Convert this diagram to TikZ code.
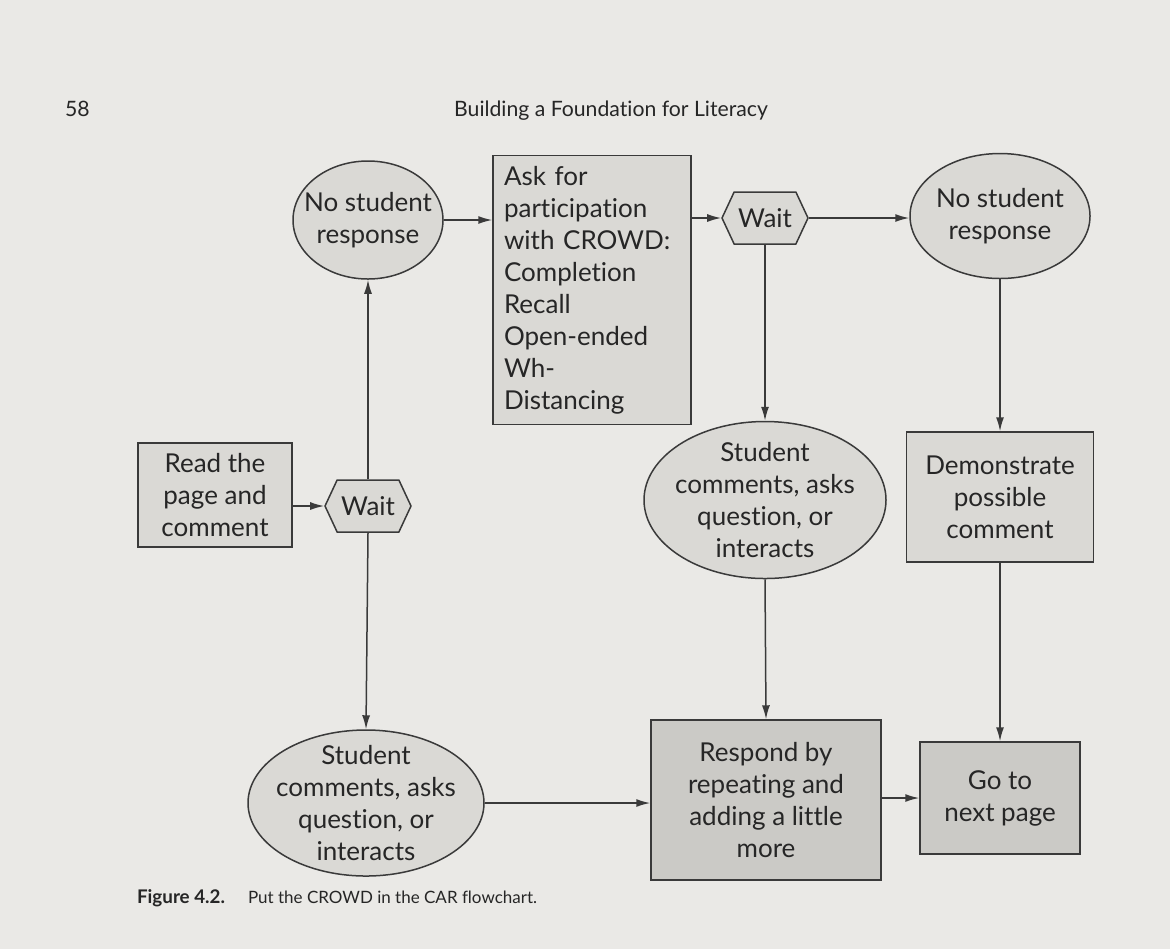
\documentclass[tikz,border=0pt]{standalone}
\usepackage{fontspec}
\setmainfont{Lato}[Ligatures=NoCommon]
\usetikzlibrary{shapes.geometric,shapes.symbols,arrows.meta}
\definecolor{pagebg}{HTML}{EAE9E6}
\definecolor{fillA}{HTML}{DAD9D5}
\definecolor{fillB}{HTML}{CBCAC6}
\definecolor{linecol}{HTML}{3A3A3A}
\definecolor{textcol}{HTML}{262626}
\tikzset{
  base/.style={draw=linecol, line width=0.75pt, text=textcol, font=\fontsize{13}{16}\selectfont, align=center},
  boxnode/.style={base, rectangle, fill=fillA, inner sep=0pt},
  darkbox/.style={base, rectangle, fill=fillB, inner sep=0pt},
  oval/.style={base, ellipse, fill=fillA, inner sep=-25pt},
  hexnode/.style={base, signal, signal to=east and west, signal pointer angle=130, fill=fillA, inner sep=0pt, minimum width=43pt, minimum height=26pt},
  arr/.style={draw=linecol, line width=0.75pt, -{Latex[length=7pt,width=4pt]}},
  hdr/.style={text=textcol, font=\fontsize{10.6}{12}\selectfont}
}
\begin{document}
\begin{tikzpicture}[x=0.5pt,y=-0.5pt]
\fill[pagebg] (0,0) rectangle (1170,949);
\useasboundingbox (0,0) rectangle (1170,949);
% header
\node[hdr, anchor=base west] (pnum) at (58,116) {58};
\node[hdr, anchor=base] (head) at (611,116) {Building a Foundation for Literacy};
% nodes
\node[boxnode, minimum width=77pt, minimum height=52pt] (read) at (215,495) {Read the\\page and\\comment};
\node[hexnode] (wait1) at (368,506) {Wait};
\node[oval, minimum width=75pt, minimum height=59pt] (ell1) at (368,220) {No student\\response};
\node[oval, minimum width=118pt, minimum height=73pt] (stud1) at (366,803) {Student\\comments, asks\\question, or\\interacts};
\node[boxnode, minimum width=99pt, minimum height=134.5pt, text width=88pt, align=left] (crowd) at (592,290) {Ask for\\participation\\with CROWD:\\Completion\\Recall\\Open-ended\\Wh-\\Distancing};
\node[hexnode] (wait2) at (765,218) {Wait};
\node[oval, minimum width=90pt, minimum height=62.5pt] (ell2) at (1000,216) {No student\\response};
\node[oval, minimum width=121pt, minimum height=78.5pt] (stud2) at (765,500) {Student\\comments, asks\\question, or\\interacts};
\node[boxnode, minimum width=93.5pt, minimum height=65pt] (demo) at (1000,497) {Demonstrate\\possible\\comment};
\node[darkbox, minimum width=115pt, minimum height=80pt] (respond) at (766,800) {Respond by\\repeating and\\adding a little\\more};
\node[darkbox, minimum width=80pt, minimum height=56pt] (go) at (1000,798) {Go to\\next page};
% connectors
\draw[arr] (read.east |- wait1.west) -- (wait1.west);
\draw[arr] (wait1.north) -- (ell1.south);
\draw[arr] (wait1.south) -- (stud1.north);
\draw[arr] (ell1.east) -- (ell1.east -| crowd.west);
\draw[arr] (crowd.east |- wait2.west) -- (wait2.west);
\draw[arr] (wait2.east) -- (wait2.east -| ell2.west);
\draw[arr] (wait2.south) -- (stud2.north);
\draw[arr] (ell2.south) -- (demo.north);
\draw[arr] (stud2.south) -- (respond.north);
\draw[arr] (demo.south) -- (go.north);
\draw[arr] (stud1.east) -- (stud1.east -| respond.west);
\draw[arr] (respond.east |- go.west) -- (go.west);
% caption
\node[anchor=base west, text=textcol, font=\fontsize{9.4}{11}\selectfont\bfseries] (figlab) at (130,903) {Figure 4.2.};
\node[anchor=base west, text=textcol, font=\fontsize{8.5}{10}\selectfont] (figcap) at (241,903) {Put the CROWD in the CAR flowchart.};
\end{tikzpicture}
\end{document}
